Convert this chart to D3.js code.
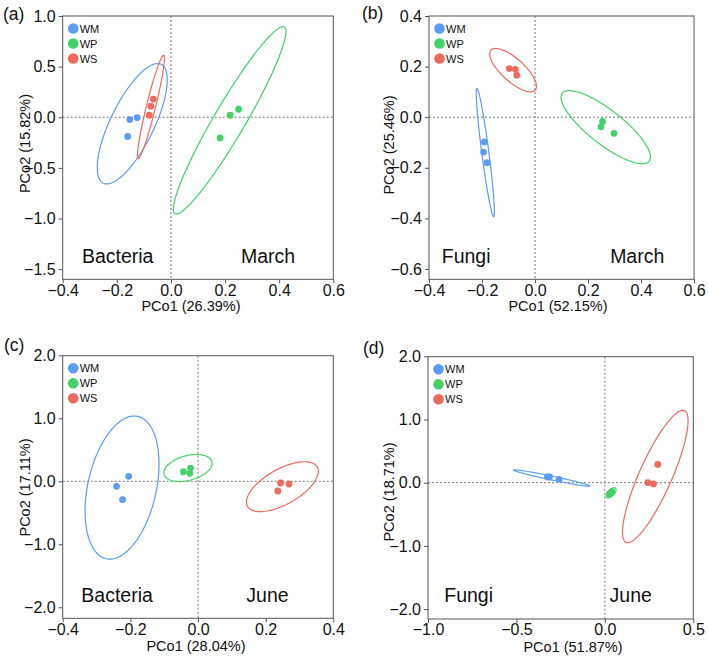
<!DOCTYPE html>
<html>
<head>
<meta charset="utf-8">
<script src="https://cdn.jsdelivr.net/npm/d3@7/dist/d3.min.js"></script>
<style>
  body { margin: 0; background: #fff; }
  text { font-family: "Liberation Sans", Arial, sans-serif; fill: #111; }
</style>
</head>
<body>
<div id="chart"></div>
<script>
// groups and their colours
const groups = ['WM', 'WP', 'WS']
const groupColors = ['#5b9cf4', '#44d16a', '#ef6a5e']

// tick values of each panel
const xTicksA = [-0.4, -0.2, 0.0, 0.2, 0.4, 0.6]
const yTicksA = [1.0, 0.5, 0.0, -0.5, -1.0, -1.5]
const xTicksB = [-0.4, -0.2, 0.0, 0.2, 0.4, 0.6]
const yTicksB = [0.4, 0.2, 0.0, -0.2, -0.4, -0.6]
const xTicksC = [-0.4, -0.2, 0.0, 0.2, 0.4]
const yTicksC = [2.0, 1.0, 0.0, -1.0, -2.0]
const xTicksD = [-1.0, -0.5, 0.0, 0.5]
const yTicksD = [2.0, 1.0, 0.0, -1.0, -2.0]

// sample scores: [group, PCo1, PCo2]
const pointsA = [
  ['WM', -0.125, -0.003], ['WM', -0.152, -0.023], ['WM', -0.160, -0.190],
  ['WP', 0.250, 0.079], ['WP', 0.219, 0.020], ['WP', 0.182, -0.204],
  ['WS', -0.065, 0.180], ['WS', -0.074, 0.110], ['WS', -0.080, 0.020]
]
const pointsB = [
  ['WM', -0.191, -0.098], ['WM', -0.194, -0.138], ['WM', -0.181, -0.180],
  ['WP', 0.255, -0.017], ['WP', 0.249, -0.038], ['WP', 0.298, -0.064],
  ['WS', -0.097, 0.192], ['WS', -0.074, 0.189], ['WS', -0.069, 0.166]
]
const pointsC = [
  ['WM', -0.205, 0.079], ['WM', -0.241, -0.079], ['WM', -0.223, -0.290],
  ['WP', -0.043, 0.152], ['WP', -0.022, 0.210], ['WP', -0.024, 0.127],
  ['WS', 0.244, -0.027], ['WS', 0.269, -0.043], ['WS', 0.236, -0.154]
]
const pointsD = [
  ['WM', -0.325, 0.090], ['WM', -0.313, 0.090], ['WM', -0.259, 0.054],
  ['WP', 0.025, -0.180], ['WP', 0.033, -0.160], ['WP', 0.040, -0.145],
  ['WS', 0.299, 0.290], ['WS', 0.243, 0.000], ['WS', 0.275, -0.020]
]

// confidence ellipses: [group, centre x, centre y, axis tip x, axis tip y, minor/major]
const ellipsesA = [
  ['WM', -0.143, -0.064, -0.036, 0.523, 0.33],
  ['WP', 0.217, -0.030, 0.419, 0.891, 0.145],
  ['WS', -0.074, 0.102, -0.027, 0.612, 0.086]
]
const ellipsesB = [
  ['WM', -0.1875, -0.140, -0.219, 0.113, 0.055],
  ['WP', 0.267, -0.0395, 0.103, 0.0948, 0.31],
  ['WS', -0.0826, 0.186, -0.166, 0.265, 0.38]
]
const ellipsesC = [
  ['WM', -0.2246, -0.100, -0.178, 1.030, 0.47],
  ['WP', -0.0296, 0.211, 0.0409, 0.313, 0.5],
  ['WS', 0.2495, -0.0857, 0.3526, 0.227, 0.44]
]
const ellipsesD = [
  ['WM', -0.3006, 0.074, -0.5166, 0.201, 0.05],
  ['WP', 0.035, -0.160, 0.0603, -0.0886, 0.5],
  ['WS', 0.285, 0.098, 0.450, 1.140, 0.227]
]

const W = 708, H = 658
const svg = d3.select('#chart').append('svg')
  .attr('width', W)
  .attr('height', H)

const color = d3.scaleOrdinal().domain(groups).range(groupColors)

const panels = [
  { tag: '(a)', tagX: 3, tagY: 19.5, left: 62.7, right: 333.3, top: 16, bottom: 279.3,
    xDomain: [-0.4, 0.6], yDomain: [-1.6, 1.0], xTicks: xTicksA, yTicks: yTicksA,
    points: pointsA, ellipses: ellipsesA, xTitle: 'PCo1 (26.39%)', yTitle: 'PCo2 (15.82%)',
    xTitleX: 191, xTitleGap: 32, yTitleX: 25, yTitleY: 143.5,
    left1: ['Bacteria', -0.329, -1.441, 'start'], right1: ['March', 0.459, -1.441, 'end'] },
  { tag: '(b)', tagX: 362, tagY: 18.5, left: 429, right: 694, top: 16, bottom: 279.3,
    xDomain: [-0.4, 0.6], yDomain: [-0.641, 0.4], xTicks: xTicksB, yTicks: yTicksB,
    points: pointsB, ellipses: ellipsesB, xTitle: 'PCo1 (52.15%)', yTitle: 'PCo2 (25.46%)',
    xTitleX: 558, xTitleGap: 32, yTitleX: 389, yTitleY: 145,
    left1: ['Fungi', -0.352, -0.576, 'start'], right1: ['March', 0.488, -0.576, 'end'] },
  { tag: '(c)', tagX: 4, tagY: 350.5, left: 62.7, right: 333.3, top: 355.7, bottom: 618.3,
    xDomain: [-0.4, 0.4], yDomain: [-2.175, 1.994], xTicks: xTicksC, yTicks: yTicksC,
    points: pointsC, ellipses: ellipsesC, xTitle: 'PCo1 (28.04%)', yTitle: 'PCo2 (17.11%)',
    xTitleX: 196, xTitleGap: 32.5, yTitleX: 25, yTitleY: 487.5,
    left1: ['Bacteria', -0.345, -1.92, 'start'], right1: ['June', 0.268, -1.92, 'end'] },
  { tag: '(d)', tagX: 363, tagY: 353.5, left: 428, right: 693.3, top: 356.7, bottom: 619,
    xDomain: [-1.0, 0.5], yDomain: [-2.157, 1.994], xTicks: xTicksD, yTicks: yTicksD,
    points: pointsD, ellipses: ellipsesD, xTitle: 'PCo1 (51.87%)', yTitle: 'PCo2 (18.71%)',
    xTitleX: 573, xTitleGap: 32.5, yTitleX: 389, yTitleY: 492,
    left1: ['Fungi', -0.908, -1.89, 'start'], right1: ['June', 0.0265, -1.89, 'start'] }
]

panels.forEach(drawPanel)

function drawPanel(p) {
  let x = d3.scaleLinear().domain(p.xDomain).range([p.left, p.right])
  let y = d3.scaleLinear().domain(p.yDomain).range([p.bottom, p.top])
  let g = svg.append('g')

  // axes
  let fmt = d3.format('.1f')
  let xAxis = g.append('g')
    .attr('transform', `translate(0,${p.bottom})`)
    .call(d3.axisBottom(x).tickValues(p.xTicks).tickFormat(fmt).tickSize(4).tickPadding(1))
  let yAxis = g.append('g')
    .attr('transform', `translate(${p.left},0)`)
    .call(d3.axisLeft(y).tickValues(p.yTicks).tickFormat(fmt).tickSize(4).tickPadding(3))
  ;[xAxis, yAxis].forEach((a) => {
    a.select('.domain').remove()
    a.selectAll('line').attr('stroke', '#555')
    a.selectAll('text').attr('font-size', 16).attr('fill', '#111')
      .attr('font-family', '"Liberation Sans", Arial, sans-serif')
  })

  // zero lines
  g.append('line')
    .attr('x1', x(0)).attr('x2', x(0)).attr('y1', p.top).attr('y2', p.bottom)
    .attr('stroke', '#777').attr('stroke-dasharray', '2,2')
  g.append('line')
    .attr('x1', p.left).attr('x2', p.right).attr('y1', y(0)).attr('y2', y(0))
    .attr('stroke', '#777').attr('stroke-dasharray', '2,2')

  // frame
  g.append('rect')
    .attr('x', p.left).attr('y', p.top)
    .attr('width', p.right - p.left).attr('height', p.bottom - p.top)
    .attr('fill', 'none').attr('stroke', '#555').attr('stroke-width', 1)

  // ellipses
  let line = d3.line().curve(d3.curveLinearClosed)
  let steps = d3.range(0, 2 * Math.PI, Math.PI / 60)
  g.append('g').selectAll('path')
    .data(p.ellipses)
    .enter().append('path')
    .attr('d', (e) => {
      let c = [x(e[1]), y(e[2])]
      let a = [x(e[3]) - c[0], y(e[4]) - c[1]]
      let b = [-a[1] * e[5], a[0] * e[5]]
      return line(steps.map((t) => [
        c[0] + a[0] * Math.cos(t) + b[0] * Math.sin(t),
        c[1] + a[1] * Math.cos(t) + b[1] * Math.sin(t)
      ]))
    })
    .attr('fill', 'none')
    .attr('stroke', (e) => color(e[0]))
    .attr('stroke-width', 1.2)

  // points
  g.append('g').selectAll('circle')
    .data(p.points)
    .enter().append('circle')
    .attr('cx', (d) => x(d[1]))
    .attr('cy', (d) => y(d[2]))
    .attr('r', 3.4)
    .attr('fill', (d) => color(d[0]))

  // legend
  let leg = g.append('g').selectAll('g')
    .data(groups)
    .enter().append('g')
    .attr('transform', (d, i) => `translate(${p.left + 10.5},${p.top + 12.5 + i * 15})`)
  leg.append('circle').attr('r', 5.3).attr('fill', (d) => color(d))
  leg.append('text').attr('x', 6.5).attr('y', 4)
    .attr('font-size', 11).text((d) => d)

  // annotations
  ;[p.left1, p.right1].forEach((t) => {
    g.append('text')
      .attr('x', x(t[1])).attr('y', y(t[2]))
      .attr('text-anchor', t[3])
      .attr('font-size', 19.5)
      .text(t[0])
  })

  // titles
  g.append('text')
    .attr('x', p.xTitleX).attr('y', p.bottom + p.xTitleGap)
    .attr('text-anchor', 'middle').attr('font-size', 14.5)
    .text(p.xTitle)
  g.append('text')
    .attr('transform', `translate(${p.yTitleX},${p.yTitleY}) rotate(-90)`)
    .attr('text-anchor', 'middle').attr('dy', '0.35em').attr('font-size', 14.5)
    .text(p.yTitle)

  svg.append('text')
    .attr('x', p.tagX).attr('y', p.tagY)
    .attr('font-size', 17.5)
    .text(p.tag)
}
</script>
</body>
</html>
